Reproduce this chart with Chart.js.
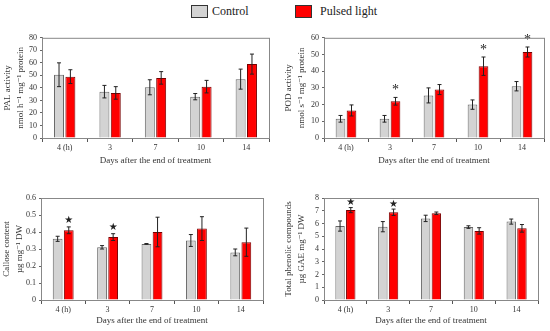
<!DOCTYPE html>
<html>
<head>
<meta charset="utf-8">
<script src="https://cdn.jsdelivr.net/npm/chart.js@4"></script>
<style>
  body { margin: 0; background: #fff; width: 550px; height: 331px; position: relative; overflow: hidden; font-family: "Liberation Serif", "DejaVu Serif", serif; }
  .box { position: absolute; }
  .legend { position: absolute; top: 3px; height: 14px; font-size: 12px; line-height: 14px; color: #222; }
  .swatch { position: absolute; top: 2px; width: 15px; height: 11px; border: 1px solid #333; }
</style>
</head>
<body>
<div class="legend" style="left:0;width:550px">
  <div class="swatch" style="left:191px;background:#d3d3d3"></div>
  <div style="position:absolute;left:212px;top:1px">Control</div>
  <div class="swatch" style="left:295px;background:#ff0000"></div>
  <div style="position:absolute;left:320px;top:1px">Pulsed light</div>
</div>
<div class="box" style="left:0;top:30px;width:275px;height:140px"><canvas id="c1"></canvas></div>
<div class="box" style="left:275px;top:30px;width:275px;height:140px"><canvas id="c2"></canvas></div>
<div class="box" style="left:0;top:180px;width:275px;height:150px"><canvas id="c3"></canvas></div>
<div class="box" style="left:275px;top:180px;width:275px;height:150px"><canvas id="c4"></canvas></div>
<script>
const categories = ["4 (h)", "3", "7", "10", "14"];
const xTitle = "Days after the end of treatment";

// PAL activity
const palControl = [50.5, 37, 40.5, 33, 47];
const palControlErr = [9.5, 5, 6, 2.5, 8];
const palPulsed = [49, 36, 48, 41, 59];
const palPulsedErr = [5.5, 5, 5, 5, 8];
const palStars = [false, false, false, false, false];

// POD activity
const podControl = [11.5, 11.5, 25.5, 20, 31];
const podControlErr = [2, 2, 4.5, 2.8, 2.8];
const podPulsed = [16.5, 22, 29, 43, 51.5];
const podPulsedErr = [3.3, 2.3, 3, 5.5, 3];
const podStars = [false, true, false, true, true];

// Callose content
const calControl = [0.36, 0.31, 0.33, 0.35, 0.28];
const calControlErr = [0.015, 0.01, 0.002, 0.035, 0.02];
const calPulsed = [0.41, 0.37, 0.40, 0.42, 0.34];
const calPulsedErr = [0.02, 0.02, 0.087, 0.07, 0.083];
const calStars = [true, true, false, false, false];

// Total phenolic compounds
const phenControl = [5.8, 5.75, 6.4, 5.72, 6.15];
const phenControlErr = [0.4, 0.4, 0.25, 0.1, 0.2];
const phenPulsed = [7.05, 6.88, 6.8, 5.42, 5.62];
const phenPulsedErr = [0.2, 0.25, 0.1, 0.25, 0.3];
const phenStars = [true, true, false, false, false];

const serif = "'Liberation Serif', 'DejaVu Serif', serif";
const axisColor = "#888";

// error bars + significance marks
const errorBarPlugin = {
  id: "errorBars",
  afterDatasetsDraw(chart) {
    const ctx = chart.ctx;
    const y = chart.scales.y;
    ctx.save();
    ctx.strokeStyle = "#222";
    ctx.lineWidth = 1;
    chart.data.datasets.forEach((ds, i) => {
      const meta = chart.getDatasetMeta(i);
      meta.data.forEach((bar, j) => {
        const v = ds.data[j], e = ds.errors[j];
        const top = y.getPixelForValue(v + e);
        const bot = y.getPixelForValue(v - e);
        ctx.beginPath();
        ctx.moveTo(bar.x, top); ctx.lineTo(bar.x, bot);
        ctx.moveTo(bar.x - 2, top); ctx.lineTo(bar.x + 2, top);
        ctx.moveTo(bar.x - 2, bot); ctx.lineTo(bar.x + 2, bot);
        ctx.stroke();
        if (ds.stars && ds.stars[j]) {
          ctx.fillStyle = "#222";
          ctx.textAlign = "center";
          ctx.textBaseline = "bottom";
          ctx.font = chart.options.starFont;
          ctx.fillText(chart.options.starChar, bar.x, top - chart.options.starGap);
        }
      });
    });
    // frame around the plot area
    const a = chart.chartArea;
    ctx.strokeStyle = axisColor;
    ctx.strokeRect(a.left + 0.5, a.top + 0.5, a.right - a.left, a.bottom - a.top);
    ctx.restore();
  }
};

function makeChart(id, cfg) {
  new Chart(document.getElementById(id), {
    type: "bar",
    data: {
      labels: categories,
      datasets: [
        { label: "Control", data: cfg.control, errors: cfg.controlErr,
          backgroundColor: "#d3d3d3", borderColor: "#666", borderWidth: 1,
          categoryPercentage: 0.5, barPercentage: 0.88 },
        { label: "Pulsed light", data: cfg.pulsed, errors: cfg.pulsedErr, stars: cfg.stars,
          backgroundColor: "#ff0000", borderColor: "#700", borderWidth: 1,
          categoryPercentage: 0.5, barPercentage: 0.88 }
      ]
    },
    options: {
      responsive: true,
      maintainAspectRatio: false,
      animation: false,
      starChar: cfg.starChar,
      starFont: cfg.starFont,
      starGap: cfg.starGap,
      layout: { padding: cfg.padding },
      plugins: { legend: { display: false }, tooltip: { enabled: false } },
      scales: {
        x: {
          grid: { display: true, offset: true, drawOnChartArea: false, tickLength: 4, color: "#555" },
          border: { color: axisColor },
          ticks: { color: "#333", font: { family: serif, size: 8 }, padding: 1 },
          title: { display: true, text: xTitle, color: "#333", font: { family: serif, size: 9 }, padding: { top: 3 } },
          afterFit(s) { s.height = cfg.xHeight; }
        },
        y: {
          min: 0, max: cfg.max,
          grid: { display: true, drawOnChartArea: false, tickLength: 2, color: "#666" },
          border: { color: axisColor },
          ticks: { stepSize: cfg.step, autoSkip: false, color: "#333", font: { family: serif, size: 8 }, padding: 3 },
          title: { display: true, text: cfg.yTitle, color: "#333", font: { family: serif, size: 9, lineHeight: 1.45 }, padding: { top: 0, bottom: 0 } },
          afterFit(s) { s.width = cfg.yWidth; }
        }
      }
    },
    plugins: [errorBarPlugin]
  });
}

makeChart("c1", {
  control: palControl, controlErr: palControlErr, pulsed: palPulsed, pulsedErr: palPulsedErr, stars: palStars,
  max: 80, step: 10, yTitle: ["PAL activity", "nmol h\u207B\u00B9 mg\u207B\u00B9 protein"],
  yWidth: 41, xHeight: 32, padding: { top: 7, right: 6, left: 1, bottom: 0 },
  starChar: "*", starFont: "14px " + serif, starGap: -2
});
makeChart("c2", {
  control: podControl, controlErr: podControlErr, pulsed: podPulsed, pulsedErr: podPulsedErr, stars: podStars,
  max: 60, step: 10, yTitle: ["POD activity", "nmol s\u207B\u00B9 mg\u207B\u00B9 protein"],
  yWidth: 42, xHeight: 32, padding: { top: 7, right: 6, left: 7, bottom: 0 },
  starChar: "*", starFont: "14px " + serif, starGap: 0
});
makeChart("c3", {
  control: calControl, controlErr: calControlErr, pulsed: calPulsed, pulsedErr: calPulsedErr, stars: calStars,
  max: 0.6, step: 0.1, yTitle: ["Callose content", "\u00B5g mg\u207B\u00B9 DW"],
  yWidth: 41, xHeight: 30, padding: { top: 18, right: 12, left: 0, bottom: 0 },
  starChar: "\u2605", starFont: "10px 'DejaVu Sans', sans-serif", starGap: 1
});
makeChart("c4", {
  control: phenControl, controlErr: phenControlErr, pulsed: phenPulsed, pulsedErr: phenPulsedErr, stars: phenStars,
  max: 8, step: 1, yTitle: ["Total phenolic compounds", "\u00B5g GAE mg\u207B\u00B9 DW"],
  yWidth: 42, xHeight: 30, padding: { top: 18, right: 12, left: 7, bottom: 0 },
  starChar: "\u2605", starFont: "10px 'DejaVu Sans', sans-serif", starGap: 0
});
</script>
</body>
</html>
